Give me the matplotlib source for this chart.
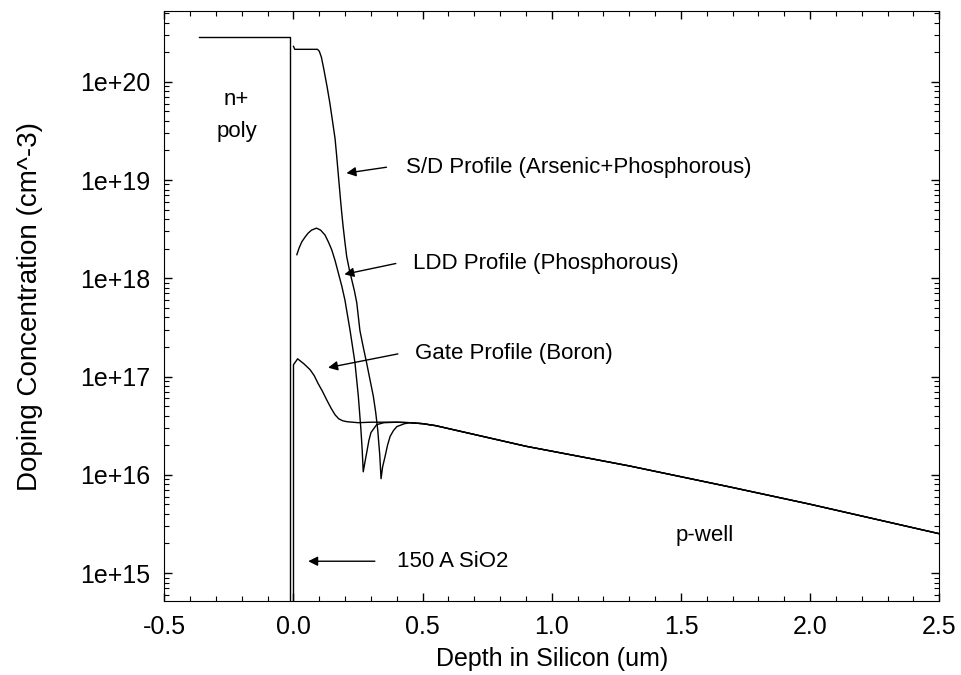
import matplotlib
matplotlib.use("Agg")
import matplotlib.pyplot as plt
from matplotlib.ticker import MultipleLocator, LogLocator, FuncFormatter, NullFormatter
import numpy as np

plt.rcParams['font.family'] = ['Liberation Sans', 'DejaVu Sans']

# depth (um) and log10 of doping concentration (cm^-3)
poly_x = [-0.364, -0.015, -0.015]
poly_log = [20.46, 20.46, 13.0]

pwell_x = [0.45, 0.5, 0.55, 0.6, 0.7, 0.8, 0.9, 1.1, 1.3, 1.5, 1.7, 2.0, 2.25, 2.5]
pwell_log = [16.53, 16.52, 16.50, 16.47, 16.41, 16.35, 16.29, 16.19, 16.09, 15.98, 15.87,
             15.70, 15.55, 15.40]

gate_x = [0.0, 0.0, 0.016, 0.04, 0.064, 0.08, 0.095, 0.112, 0.129, 0.145, 0.161, 0.175,
          0.19, 0.207, 0.25, 0.3, 0.35, 0.4]
gate_log = [13.0, 17.12, 17.18, 17.13, 17.07, 17.01, 16.93, 16.85, 16.76, 16.68, 16.61, 16.57,
            16.55, 16.54, 16.53, 16.535, 16.535, 16.535]

ldd_x = [0.013, 0.022, 0.032, 0.045, 0.057, 0.07, 0.089, 0.105, 0.122, 0.135, 0.148, 0.161,
         0.174, 0.187, 0.199, 0.219, 0.238, 0.251, 0.261, 0.266, 0.270, 0.276, 0.283, 0.292,
         0.300, 0.322, 0.35, 0.4]
ldd_log = [18.24, 18.31, 18.37, 18.42, 18.46, 18.49, 18.51, 18.49, 18.44, 18.37, 18.29, 18.18,
           18.05, 17.92, 17.78, 17.47, 17.14, 16.80, 16.46, 16.25, 16.03, 16.12, 16.22, 16.35,
           16.43, 16.51, 16.53, 16.535]

sd_x = [0.0, 0.005, 0.093, 0.100, 0.108, 0.118, 0.130, 0.141, 0.151, 0.161, 0.167, 0.172,
        0.177, 0.182, 0.187, 0.192, 0.199, 0.206, 0.216, 0.226, 0.236, 0.245, 0.257, 0.270,
        0.283, 0.296, 0.309, 0.318, 0.326, 0.334, 0.339, 0.345, 0.354, 0.364, 0.374, 0.387,
        0.40, 0.43]
sd_log = [20.36, 20.33, 20.33, 20.31, 20.25, 20.12, 19.95, 19.78, 19.60, 19.42, 19.25, 19.10,
          18.95, 18.80, 18.66, 18.53, 18.37, 18.22, 18.09, 17.98, 17.87, 17.75, 17.47, 17.30,
          17.14, 16.97, 16.80, 16.64, 16.46, 16.20, 15.96, 16.08, 16.18, 16.30, 16.39, 16.45,
          16.49, 16.52]

xticks = [-0.5, 0.0, 0.5, 1.0, 1.5, 2.0, 2.5]
yticks = [1e15, 1e16, 1e17, 1e18, 1e19, 1e20]


def with_tail(x, lg):
    # profiles merge into the p-well background beyond the junction
    return np.array(x + pwell_x), 10.0 ** np.array(lg + pwell_log)


fig = plt.figure(figsize=(9.61, 6.75), dpi=100)
ax = fig.add_axes([0.171, 0.1096, 0.8064, 0.8741])

lw = 1.0
ax.plot(poly_x, 10.0 ** np.array(poly_log), color='k', lw=lw)
ax.plot(*with_tail(gate_x, gate_log), color='k', lw=lw)
ax.plot(*with_tail(ldd_x, ldd_log), color='k', lw=lw)
ax.plot(*with_tail(sd_x, sd_log), color='k', lw=lw)

ax.set_yscale('log')
ax.set_xlim(-0.5, 2.5)
ax.set_ylim(10 ** 14.715, 10 ** 20.72)

ax.set_xticks(xticks)
ax.xaxis.set_minor_locator(MultipleLocator(0.1))
ax.xaxis.set_major_formatter(FuncFormatter(lambda v, p: f"{v:.1f}"))
ax.set_yticks(yticks)
ax.yaxis.set_minor_locator(LogLocator(base=10, subs=np.arange(2, 10)))
ax.yaxis.set_minor_formatter(NullFormatter())
ax.yaxis.set_major_formatter(FuncFormatter(lambda v, p: f"1e+{int(round(np.log10(v)))}"))

ax.tick_params(which='both', direction='in', top=True, right=True, labelsize=18)
ax.tick_params(which='major', length=6, width=1)
ax.tick_params(which='minor', length=3.5, width=0.8)
ax.tick_params(axis='x', pad=10)
ax.tick_params(axis='y', pad=10)

ax.set_xlabel("Depth in Silicon (um)", fontsize=18, labelpad=6)
ax.set_ylabel("Doping Concentration (cm^-3)", fontsize=20, labelpad=27)

fs = 16
ax.text(-0.22, 10 ** 19.82, "n+", fontsize=fs, ha='center', va='center')
ax.text(-0.22, 10 ** 19.49, "poly", fontsize=fs, ha='center', va='center')
ax.text(1.59, 10 ** 15.38, "p-well", fontsize=fs, ha='center', va='center')

arrow = dict(arrowstyle='-|>', color='k', lw=1, mutation_scale=14, shrinkA=0, shrinkB=0)
notes = [
    ("S/D Profile (Arsenic+Phosphorous)", (0.205, 10 ** 19.07), (0.36, 10 ** 19.13)),
    ("LDD Profile (Phosphorous)", (0.197, 10 ** 18.04), (0.396, 10 ** 18.15)),
    ("Gate Profile (Boron)", (0.134, 10 ** 17.09), (0.404, 10 ** 17.23)),
    ("150 A SiO2", (0.057, 10 ** 15.12), (0.315, 10 ** 15.12)),
]
text_x = [0.435, 0.462, 0.472, 0.40]
for (label, tip, start), tx in zip(notes, text_x):
    ax.annotate("", xy=tip, xytext=start, arrowprops=arrow)
    ax.text(tx, start[1], label, fontsize=fs, ha='left', va='center')

fig.savefig("out.png", dpi=100)
